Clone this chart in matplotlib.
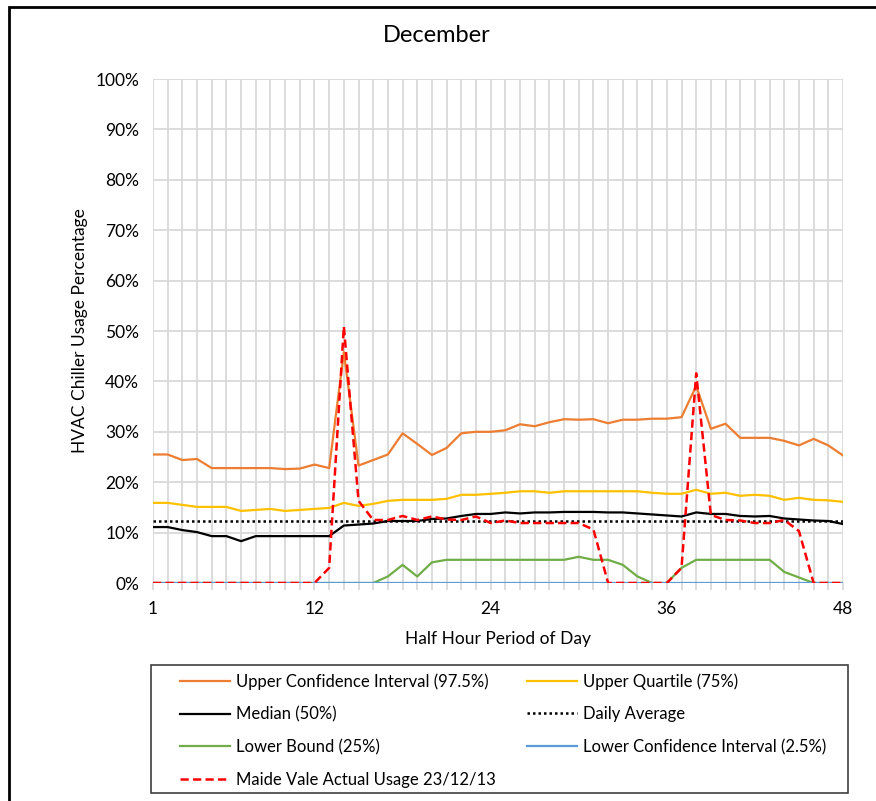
import matplotlib
matplotlib.use("Agg")
import matplotlib.pyplot as plt
from matplotlib.patches import Rectangle
from matplotlib.ticker import PercentFormatter, MultipleLocator

plt.rcParams['font.family'] = ['Lato', 'DejaVu Sans']

# half hour periods
periods = list(range(1, 49))

upper_ci = [25.5, 25.5, 24.4, 24.6, 22.8, 22.8, 22.8, 22.8, 22.8, 22.6, 22.7, 23.5, 22.8,
            45.8, 23.3, 24.4, 25.5,
            29.7, 27.6, 25.4, 26.8, 29.7, 30.0, 30.0, 30.3, 31.5, 31.1, 31.9, 32.5, 32.4,
            32.5, 31.7, 32.4, 32.4,
            32.6, 32.6, 32.9, 39.1, 30.6, 31.6, 28.8, 28.8, 28.8, 28.2, 27.3, 28.6, 27.3, 25.3]
upper_q = [15.9, 15.9, 15.5, 15.1, 15.1, 15.1, 14.3, 14.5, 14.7, 14.3, 14.5, 14.7, 14.9,
           15.9, 15.3, 15.7, 16.3,
           16.5, 16.5, 16.5, 16.7, 17.5, 17.5, 17.7, 17.9, 18.2, 18.2, 17.9, 18.2, 18.2,
           18.2, 18.2, 18.2, 18.2,
           17.9, 17.7, 17.7, 18.5, 17.7, 17.9, 17.3, 17.5, 17.3, 16.5, 16.9, 16.5, 16.4, 16.1]
median = [11.1, 11.1, 10.5, 10.1, 9.3, 9.3, 8.3, 9.3, 9.3, 9.3, 9.3, 9.3, 9.3,
          11.4, 11.6, 11.8, 12.3,
          12.3, 12.3, 12.7, 12.8, 13.3, 13.7, 13.7, 14.0, 13.8, 14.0, 14.0, 14.1, 14.1,
          14.1, 14.0, 14.0, 13.8,
          13.6, 13.4, 13.2, 14.0, 13.7, 13.7, 13.3, 13.2, 13.3, 12.8, 12.6, 12.4, 12.3, 11.7]
daily_avg = [12.3] * 48
lower_b = [0] * 16 + [1.3, 3.6, 1.3, 4.1] + [4.6] * 9 + [5.2, 4.6, 4.6, 3.6, 1.3,
           0, 0, 3.0] + [4.6] * 6 + [2.2, 1.1, 0, 0, 0]
lower_ci = [0] * 48
actual = [0] * 12 + [3.0, 50.9, 16.3, 12.5, 12.5, 13.3, 12.5, 13.2, 12.6, 12.5, 13.2,
          11.9, 12.4] + [11.9] * 5 + [10.6] + [0] * 5 + [3.0, 41.6, 13.5, 12.5, 12.4,
          11.9, 11.9, 12.5, 10.3, 0, 0, 0]

W, H = 876, 801
fig = plt.figure(figsize=(W / 100, H / 100), dpi=100)
ax = fig.add_axes([153 / W, 1 - 583 / H, 690 / W, 504 / H])

l_uci, = ax.plot(periods, upper_ci, color='#ED7D31', lw=1.6, label='Upper Confidence Interval (97.5%)')
l_uq, = ax.plot(periods, upper_q, color='#FFC000', lw=1.6, label='Upper Quartile (75%)')
l_med, = ax.plot(periods, median, color='black', lw=1.6, label='Median (50%)')
l_avg, = ax.plot(periods, daily_avg, color='black', lw=1.8, ls=(0, (1, 1.2)), label='Daily Average')
l_lb, = ax.plot(periods, lower_b, color='#70AD47', lw=1.6, label='Lower Bound (25%)')
l_lci, = ax.plot(periods, lower_ci, color='#5B9BD5', lw=1.6, label='Lower Confidence Interval (2.5%)')
l_act, = ax.plot(periods, actual, color='#FF0000', lw=1.8, ls=(0, (3.3, 1.7)),
                 label='Maide Vale Actual Usage 23/12/13')

ax.set_xlim(1, 48)
ax.set_ylim(0, 100)
ax.set_xticks([1, 12, 24, 36, 48])
ax.xaxis.set_minor_locator(MultipleLocator(1))
ax.yaxis.set_major_locator(MultipleLocator(10))
ax.yaxis.set_major_formatter(PercentFormatter(xmax=100, decimals=0))
ax.grid(True, which='both', axis='x', color='#d9d9d9', lw=1.3)
ax.grid(True, which='major', axis='y', color='#d9d9d9', lw=1.3)
ax.set_axisbelow(True)
for s in ax.spines.values():
    s.set_visible(False)
ax.tick_params(axis='y', length=0, labelsize=12.5, pad=10, colors='black')
ax.tick_params(axis='x', which='both', length=5, color='#d9d9d9', width=1.3,
               labelsize=12.5, pad=8, labelcolor='black')

ax.set_xlabel('Half Hour Period of Day', fontsize=12.5, labelpad=10)
ax.set_ylabel('HVAC Chiller Usage Percentage', fontsize=12.5, labelpad=5)
fig.text(437 / W, 1 - 35 / H, 'December', fontsize=17, ha='center', va='center')

# legend box drawn separately, entries filled row by row
fig.patches.append(Rectangle((151 / W, 1 - 793 / H), 697 / W, 128 / H, fill=False,
                             lw=1.2, edgecolor='#404040', transform=fig.transFigure))
handles = [l_uci, l_med, l_lb, l_act, l_uq, l_avg, l_lci]
fig.legend(handles=handles, labels=[h.get_label() for h in handles], ncol=2,
           loc='upper left', bbox_to_anchor=(180 / W, 1 - 673 / H - 0.01, 646 / W, 0.01),
           mode='expand', fontsize=12, handlelength=3.0, handletextpad=0.36,
           labelspacing=1.0, borderpad=0, borderaxespad=0, frameon=False)

# outer chart border (cropped on the right and bottom)
fig.patches.append(Rectangle((9 / W, -0.05), 1.1, 1.05 - 7 / H, fill=False,
                             lw=2, edgecolor='black', transform=fig.transFigure))

fig.savefig('out.png', dpi=100)
